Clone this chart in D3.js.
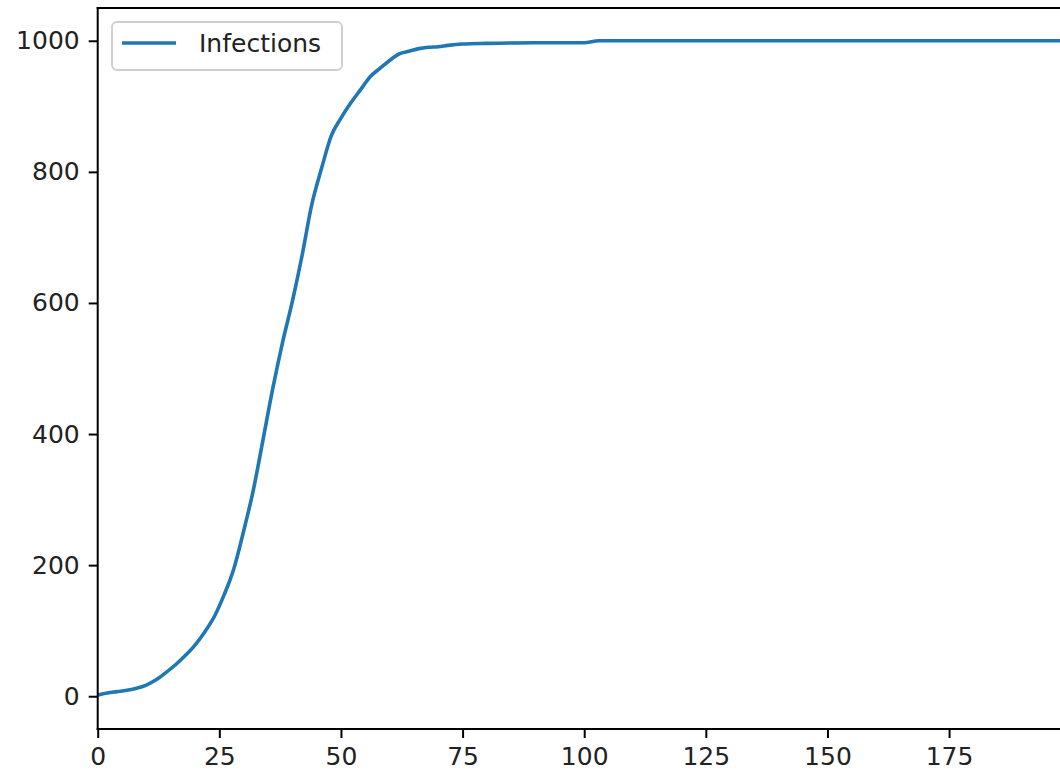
<!DOCTYPE html>
<html>
<head>
<meta charset="utf-8">
<script src="https://cdn.jsdelivr.net/npm/d3@7"></script>
<style>
  html, body { margin: 0; padding: 0; background: #fff; }
  svg { display: block; font-family: "DejaVu Sans", sans-serif; }
</style>
</head>
<body>
<svg id="chart" width="1060" height="771"></svg>
<script>
// Data
const days = [0, 2, 4, 6, 8, 10, 12, 14, 16, 18, 20, 22, 24, 26, 28, 30, 32, 34, 36, 38,
              40, 42, 44, 46, 48, 50, 52, 54, 56, 58, 60, 62, 64, 66, 68, 70, 72, 75, 80,
              90, 100, 103, 199];
const infections = [2, 5, 7, 9, 12, 17, 25, 36, 48, 62, 78, 98, 122, 155, 195, 252, 315, 392, 470, 540,
                    602, 672, 750, 805, 855, 882, 905, 925, 945, 958, 970, 980, 984, 988, 990, 991, 993, 995, 996,
                    997, 997, 1000, 1000];
const seriesName = "Infections";
const xTicks = [0, 25, 50, 75, 100, 125, 150, 175];
const yTicks = [0, 200, 400, 600, 800, 1000];

(function () {
const svg = d3.select("#chart");
const mLeft = 97.7, mRight = 1070.7, mTop = 8, mBottom = 729;
const FS = 25;

const x = d3.scaleLinear().domain([0, 200]).range([mLeft, mRight]);
const y = d3.scaleLinear().domain([-50, 1050]).range([mBottom, mTop]);

svg.append("defs").append("clipPath").attr("id", "clip")
  .append("rect").attr("x", mLeft).attr("y", mTop).attr("width", mRight - mLeft).attr("height", mBottom - mTop);

const data = days.map((d, i) => ({ t: d, v: infections[i] }));

svg.append("path")
  .datum(data)
  .attr("clip-path", "url(#clip)")
  .attr("fill", "none")
  .attr("stroke", "#1f77b4")
  .attr("stroke-width", 3.6)
  .attr("stroke-linejoin", "round")
  .attr("stroke-linecap", "square")
  .attr("d", d3.line().x(d => x(d.t)).y(d => y(d.v)).curve(d3.curveMonotoneX));

// Axes
const xAxis = svg.append("g").attr("transform", `translate(0,${mBottom})`)
  .call(d3.axisBottom(x).tickValues(xTicks).tickFormat(d3.format("d")).tickSizeOuter(0).tickSize(9).tickPadding(9));
const yAxis = svg.append("g").attr("transform", `translate(${mLeft},0)`)
  .call(d3.axisLeft(y).tickValues(yTicks).tickFormat(d3.format("d")).tickSizeOuter(0).tickSize(9).tickPadding(9));

[xAxis, yAxis].forEach(g => {
  g.select(".domain").remove();
  g.selectAll(".tick line").attr("stroke", "#000").attr("stroke-width", 2);
  g.selectAll(".tick text").attr("fill", "#222").style("font-size", FS + "px").style("font-family", "DejaVu Sans");
});

// Spines
const sp = svg.append("g").attr("stroke", "#000").attr("stroke-width", 2).attr("stroke-linecap", "square");
sp.append("line").attr("x1", mLeft).attr("x2", mLeft).attr("y1", mTop).attr("y2", mBottom);
sp.append("line").attr("x1", mLeft).attr("x2", mRight).attr("y1", mBottom).attr("y2", mBottom);
sp.append("line").attr("x1", mLeft).attr("x2", mRight).attr("y1", mTop).attr("y2", mTop);
sp.append("line").attr("x1", mRight).attr("x2", mRight).attr("y1", mTop).attr("y2", mBottom);

// Legend
const lg = svg.append("g");
lg.append("rect").attr("x", 112).attr("y", 22).attr("width", 230).attr("height", 48)
  .attr("rx", 5).attr("ry", 5)
  .attr("fill", "rgba(255,255,255,0.8)").attr("stroke", "#d0d0d0").attr("stroke-width", 2);
lg.append("line").attr("x1", 122).attr("x2", 176).attr("y1", 43).attr("y2", 43)
  .attr("stroke", "#1f77b4").attr("stroke-width", 3.6);
lg.append("text").attr("x", 199).attr("y", 52).attr("fill", "#222")
  .style("font-size", FS + "px").text(seriesName);
})();
</script>
</body>
</html>
